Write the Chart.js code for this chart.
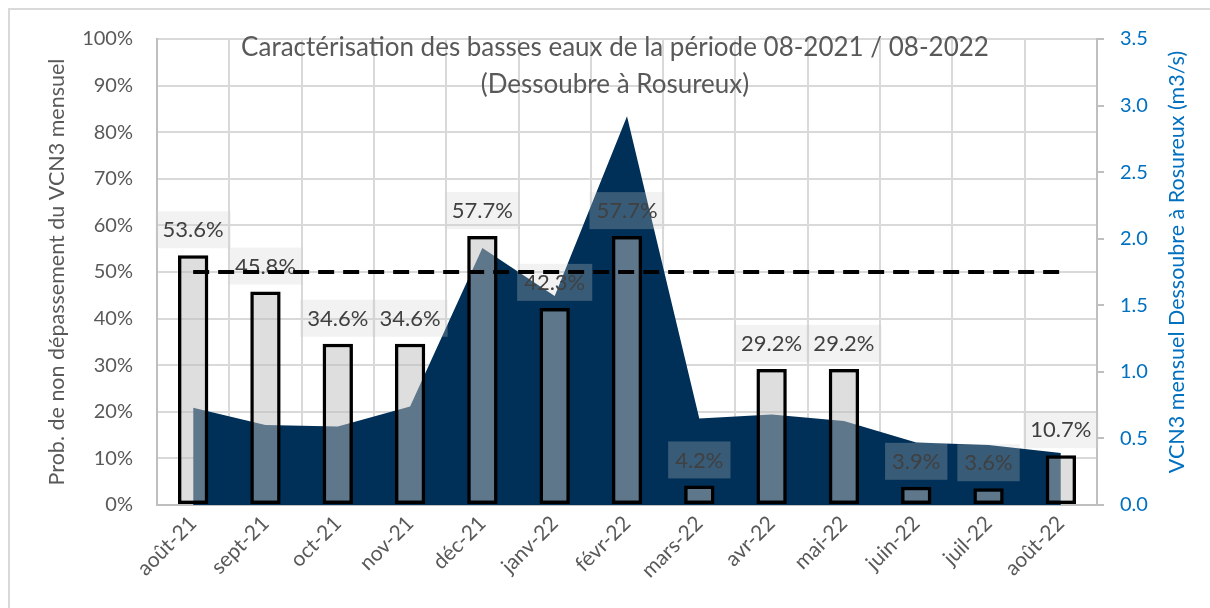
<!DOCTYPE html>
<html>
<head>
<meta charset="utf-8">
<script src="https://cdn.jsdelivr.net/npm/chart.js@4"></script>
<style>
  body { margin: 0; background: #fff; }
  #wrap { width: 1210px; height: 608px; position: relative; }
</style>
</head>
<body>
<div id="wrap"><canvas id="chart"></canvas></div>
<script>
const mois = ['août-21', 'sept-21', 'oct-21', 'nov-21', 'déc-21', 'janv-22', 'févr-22', 'mars-22', 'avr-22', 'mai-22', 'juin-22', 'juil-22', 'août-22'];
// probabilité de non dépassement (%)
const probNonDep = [53.6, 45.8, 34.6, 34.6, 57.7, 42.3, 57.7, 4.2, 29.2, 29.2, 3.9, 3.6, 10.7];
// VCN3 mensuel (m3/s)
const vcn3 = [0.73, 0.60, 0.59, 0.74, 1.93, 1.57, 2.92, 0.65, 0.68, 0.63, 0.47, 0.45, 0.39];
// seuil 50 %
const seuil = [50, 50, 50, 50, 50, 50, 50, 50, 50, 50, 50, 50, 50];

const titre = ['Caractérisation des basses eaux de la période 08-2021 / 08-2022', '(Dessoubre à Rosureux)'];
const titreGauche = 'Prob. de non dépassement du VCN3 mensuel';
const titreDroite = 'VCN3 mensuel Dessoubre à Rosureux (m3/s)';

const FONT = 'Lato, "Open Sans", sans-serif';
const gris = '#595959';
const bleu = '#0070c0';

const decor = {
  id: 'decor',
  beforeDraw(chart) {
    const ctx = chart.ctx;
    ctx.save();
    ctx.fillStyle = '#fff';
    ctx.fillRect(0, 0, chart.width, chart.height);
    ctx.strokeStyle = '#d9d9d9';
    ctx.lineWidth = 2;
    ctx.beginPath();
    ctx.moveTo(1210, 9); ctx.lineTo(9, 9); ctx.lineTo(9, 608);
    ctx.stroke();
    ctx.restore();
  },
  afterDatasetDraw(chart, args) {
    if (args.index !== 1) return;
    const ctx = chart.ctx;
    ctx.save();
    ctx.font = '22px ' + FONT;
    ctx.textAlign = 'center';
    ctx.textBaseline = 'middle';
    args.meta.data.forEach((bar, i) => {
      const txt = probNonDep[i].toFixed(1) + '%';
      const w = ctx.measureText(txt).width + 14;
      const cy = bar.y - 26;
      ctx.fillStyle = 'rgba(206,206,206,0.27)';
      ctx.fillRect(bar.x - w / 2, cy - 18, w, 37);
      ctx.fillStyle = '#404040';
      ctx.fillText(txt, bar.x, cy + 1);
    });
    ctx.restore();
  },
  afterDraw(chart) {
    const ctx = chart.ctx;
    const a = chart.chartArea;
    ctx.save();
    ctx.fillStyle = gris;
    ctx.font = '26px ' + FONT;
    ctx.textAlign = 'center';
    ctx.textBaseline = 'middle';
    ctx.fillText(titre[0], 615, 48);
    ctx.fillText(titre[1], 615, 85);
    // titre axe droit, lu de bas en haut
    ctx.fillStyle = bleu;
    ctx.font = '21.5px ' + FONT;
    ctx.translate(1177, (a.top + a.bottom) / 2 - 10);
    ctx.rotate(-Math.PI / 2);
    ctx.fillText(titreDroite, 0, 0);
    ctx.restore();
  }
};

new Chart(document.getElementById('chart'), {
  type: 'bar',
  data: {
    labels: mois,
    datasets: [
      {
        type: 'line',
        label: 'Seuil 50 %',
        data: seuil,
        yAxisID: 'y',
        borderColor: '#000',
        borderWidth: 4,
        borderDash: [16, 9],
        pointRadius: 0,
        fill: false,
        order: 0
      },
      {
        type: 'bar',
        label: 'Prob. de non dépassement',
        data: probNonDep,
        yAxisID: 'y',
        backgroundColor: 'rgba(190,190,190,0.5)',
        borderColor: '#000',
        borderWidth: 3.5,
        borderSkipped: false,
        barPercentage: 0.42,
        categoryPercentage: 1,
        order: 1
      },
      {
        type: 'line',
        label: 'VCN3 mensuel',
        data: vcn3,
        yAxisID: 'y1',
        backgroundColor: '#003057',
        borderWidth: 0,
        pointRadius: 0,
        tension: 0,
        fill: 'origin',
        order: 2
      }
    ]
  },
  options: {
    responsive: true,
    maintainAspectRatio: false,
    animation: false,
    layout: { padding: { left: 10, top: 39, right: 0, bottom: 0 } },
    plugins: {
      legend: { display: false },
      tooltip: { enabled: false }
    },
    scales: {
      x: {
        offset: true,
        grid: { color: '#d9d9d9', lineWidth: 2, drawTicks: false, offset: true },
        border: { color: '#bfbfbf', width: 2 },
        ticks: { color: gris, font: { family: FONT, size: 21 }, maxRotation: 45, minRotation: 45, padding: 6, autoSkip: false },
        afterFit(s) { s.height = 103; }
      },
      y: {
        position: 'left',
        min: 0,
        max: 100,
        ticks: { stepSize: 10, color: gris, font: { family: FONT, size: 20 }, padding: 24, callback: v => v + '%' },
        grid: { color: '#d9d9d9', lineWidth: 2, drawTicks: false },
        border: { color: '#bfbfbf', width: 2 },
        title: { display: true, text: titreGauche, color: gris, font: { family: FONT, size: 21.5 }, padding: { top: 34 } },
        afterFit(s) { s.width = 147; }
      },
      y1: {
        position: 'right',
        min: 0,
        max: 3.5,
        ticks: { stepSize: 0.5, color: bleu, font: { family: FONT, size: 20 }, padding: 16, callback: v => v.toFixed(1) },
        grid: { drawOnChartArea: false, color: '#bfbfbf', lineWidth: 2, tickLength: 7 },
        border: { color: '#bfbfbf', width: 2 },
        afterFit(s) { s.width = 113; }
      }
    }
  },
  plugins: [decor]
});
</script>
</body>
</html>
